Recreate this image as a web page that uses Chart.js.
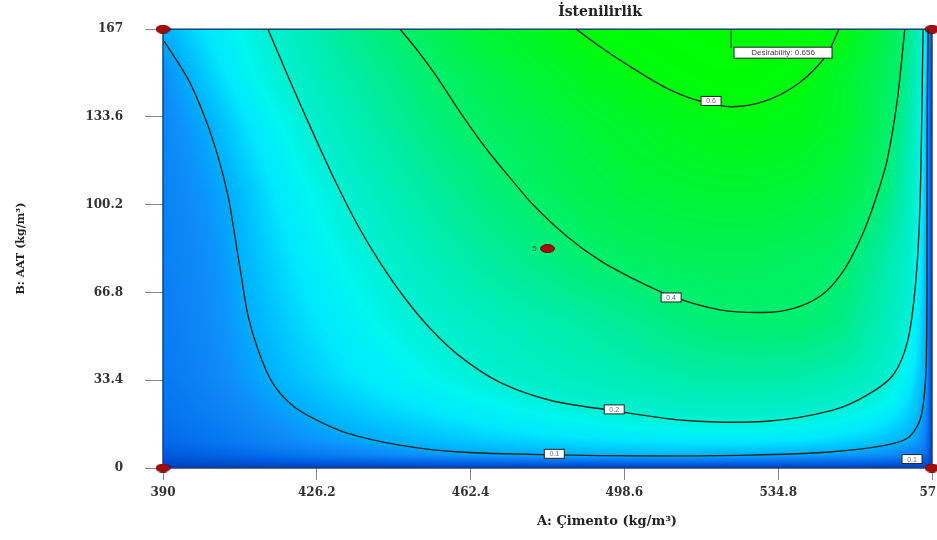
<!DOCTYPE html>
<html>
<head>
<meta charset="utf-8">
<script src="https://cdn.jsdelivr.net/npm/chart.js@4/dist/chart.umd.min.js"></script>
<style>
html, body { margin: 0; padding: 0; background: #fff; overflow: hidden; }
#wrap { width: 960px; height: 540px; }
</style>
</head>
<body>
<div id="wrap"><canvas id="desirChart" width="960" height="540"></canvas></div>
<script>
// axis ticks
const xTicks = [390, 426.2, 462.4, 498.6, 534.8, 571];
const yTicks = [0, 33.4, 66.8, 100.2, 133.6, 167];

// contour lines, [Cimento, AAT]
const contour06 = [[487.3,167],[492.7,160.5],[500.5,152.2],[508.5,144.6],[516.2,139.7],[524,137.5],[532,139.8],[539.7,146.5],[546.1,157],[549.1,167]];
const contour04 = [[445.8,167],[450,158.7],[454.3,149.2],[458.5,138.9],[462.7,129],[467,119.6],[471.7,110.4],[477.1,100.2],[485.1,88.1],[492.9,78.9],[500.6,72.1],[509.8,65.3],[521.1,60.2],[532.9,59.3],[539.9,61.5],[545.8,66.8],[550.5,75.9],[554.5,88.4],[557.6,101.7],[560.4,116.9],[562.8,139.7],[564.6,167]];
const contour02 = [[414.7,167],[419.9,147.3],[425.1,128.3],[430.5,109.3],[435.9,92.2],[441.1,78.2],[447,64.5],[452.9,53.1],[459.9,42.5],[469.3,32.6],[481.1,25.8],[495.2,22],[512.4,18.2],[532.2,17.8],[547.7,22],[555.7,27.7],[561.8,35.3],[565.3,48.6],[567.2,71.4],[568.2,101.7],[568.9,167]];
const contour01 = [[390.3,162.4],[395.9,148],[399.9,133.2],[402.9,118.8],[405.3,103.6],[406.9,88.4],[408.4,73.3],[410,58.1],[412.4,44.8],[415.7,32.6],[420.4,23.9],[426.2,18.2],[433.3,13.3],[445.7,8.7],[459.8,6.1],[482.1,5],[504.5,4.6],[528,4.9],[546.8,6.1],[560.2,8.7],[565.6,11.8],[568.4,19.4],[569.6,38.3],[569.8,82.7],[569.9,139.7],[570.1,167]];

// design points (4 corners + centre, 5 replicates)
const designPoints = [[390,0],[390,167],[571,0],[571,167],[480.5,83.5]];
const centreReps = 5;
const optimum = { x: 523.7, y: 167, value: 0.656 };

// desirability field estimated from the colours
const gridX = [390,395,400,405,410,420,430,440,450,460,470,480,490,500,510,520,530,540,550,556,560,563,566,568,569.5,570.5,571];
const gridY = [167,150,130,105,80,55,35,20,10,5,2,0];
const desirGrid = [
  [.10,.12,.14,.16,.18,.23,.30,.36,.42,.47,.52,.56,.61,.625,.64,.652,.654,.635,.588,.51,.457,.418,.324,.229,.14,.055,0],
  [.08,.097,.12,.14,.165,.208,.265,.32,.38,.425,.465,.507,.548,.588,.612,.628,.625,.602,.516,.463,.428,.402,.292,.215,.127,.045,0],
  [.075,.085,.097,.115,.137,.178,.227,.282,.338,.393,.426,.455,.49,.52,.55,.575,.585,.56,.51,.453,.415,.355,.258,.19,.115,.045,0],
  [.07,.077,.086,.098,.115,.154,.19,.236,.285,.333,.382,.42,.45,.475,.49,.50,.50,.485,.455,.417,.368,.299,.23,.172,.112,.045,0],
  [.068,.073,.08,.09,.107,.137,.167,.197,.236,.275,.315,.355,.394,.415,.428,.435,.432,.42,.402,.335,.284,.245,.206,.155,.109,.045,0],
  [.065,.07,.077,.086,.098,.123,.147,.171,.195,.22,.244,.268,.29,.32,.355,.38,.39,.39,.35,.29,.25,.222,.184,.137,.102,.04,0],
  [.062,.066,.072,.08,.09,.111,.13,.149,.168,.187,.206,.225,.245,.262,.278,.29,.292,.283,.26,.235,.21,.183,.145,.12,.101,.04,0],
  [.055,.06,.065,.07,.077,.092,.107,.12,.132,.145,.158,.17,.183,.196,.205,.21,.21,.2,.18,.165,.15,.135,.118,.103,.08,.035,0],
  [.045,.05,.055,.06,.066,.078,.089,.098,.107,.115,.122,.128,.133,.137,.14,.141,.14,.135,.125,.117,.11,.104,.098,.085,.065,.03,0],
  [.03,.034,.038,.042,.047,.056,.066,.075,.083,.09,.096,.1,.102,.103,.103,.102,.1,.096,.09,.085,.08,.075,.068,.06,.048,.025,0],
  [.015,.017,.019,.021,.023,.027,.031,.035,.038,.04,.042,.043,.044,.044,.044,.044,.043,.042,.04,.038,.036,.034,.031,.028,.022,.012,0],
  [0,0,0,0,0,0,0,0,0,0,0,0,0,0,0,0,0,0,0,0,0,0,0,0,0,0,0]
];

// contour labels: text, Cimento, AAT
const contourLabels = [['0.6',519,139.7],['0.4',509.6,64.9],['0.2',496.2,22.3],['0.1',482.1,5.4],['0.1',566.3,3.4]];

const colorStops = [
  [0, [0,60,190]], [0.04, [0,100,230]], [0.08, [15,140,250]], [0.1, [0,175,255]],
  [0.14, [0,232,255]], [0.17, [0,246,240]], [0.2, [0,240,210]], [0.3, [0,236,160]],
  [0.4, [0,240,105]], [0.5, [0,245,50]], [0.6, [0,252,12]], [0.66, [0,255,0]]
];

function colorFor(d) {
  if (d <= colorStops[0][0]) return colorStops[0][1];
  for (let k = 1; k < colorStops.length; k++) {
    if (d <= colorStops[k][0]) {
      const [d0, c0] = colorStops[k - 1], [d1, c1] = colorStops[k];
      const t = (d - d0) / (d1 - d0);
      return [c0[0] + (c1[0] - c0[0]) * t, c0[1] + (c1[1] - c0[1]) * t, c0[2] + (c1[2] - c0[2]) * t];
    }
  }
  return colorStops[colorStops.length - 1][1];
}

function desirAt(x, y) {
  let i = 0; while (i < gridX.length - 2 && x > gridX[i + 1]) i++;
  let j = 0; while (j < gridY.length - 2 && y < gridY[j + 1]) j++;
  const tx = Math.min(1, Math.max(0, (x - gridX[i]) / (gridX[i + 1] - gridX[i])));
  const ty = Math.min(1, Math.max(0, (gridY[j] - y) / (gridY[j] - gridY[j + 1])));
  const a = desirGrid[j][i], b = desirGrid[j][i + 1], c = desirGrid[j + 1][i], d = desirGrid[j + 1][i + 1];
  return (a * (1 - tx) + b * tx) * (1 - ty) + (c * (1 - tx) + d * tx) * ty;
}

function makeEllipse(w, h) {
  const c = document.createElement('canvas');
  c.width = w; c.height = h;
  const g = c.getContext('2d');
  g.fillStyle = '#a30d0d';
  g.strokeStyle = '#6a0606';
  g.beginPath();
  g.ellipse(w / 2, h / 2, w / 2 - 0.5, h / 2 - 0.5, 0, 0, Math.PI * 2);
  g.fill(); g.stroke();
  return c;
}

const toXY = arr => arr.map(p => ({ x: p[0], y: p[1] }));
const serif = '"DejaVu Serif", "Liberation Serif", serif';

const fieldPlugin = {
  id: 'field',
  beforeDatasetsDraw(chart) {
    const { ctx, chartArea: a, scales: { x, y } } = chart;
    const w = Math.round(a.right - a.left), h = Math.round(a.bottom - a.top);
    const off = document.createElement('canvas');
    off.width = w; off.height = h;
    const octx = off.getContext('2d');
    const img = octx.createImageData(w, h);
    const xs = [], ys = [];
    for (let i = 0; i < w; i++) xs.push(x.getValueForPixel(a.left + i + 0.5));
    for (let j = 0; j < h; j++) ys.push(y.getValueForPixel(a.top + j + 0.5));
    for (let j = 0; j < h; j++) {
      for (let i = 0; i < w; i++) {
        const c = colorFor(desirAt(xs[i], ys[j]));
        const k = (j * w + i) * 4;
        img.data[k] = c[0]; img.data[k + 1] = c[1]; img.data[k + 2] = c[2]; img.data[k + 3] = 255;
      }
    }
    octx.putImageData(img, 0, 0);
    ctx.save();
    ctx.drawImage(off, a.left, a.top);
    ctx.lineWidth = 1.5;
    ctx.strokeStyle = '#1f3f7a';
    ctx.strokeRect(a.left, a.top, a.right - a.left, a.bottom - a.top);
    ctx.restore();
  }
};

const notesPlugin = {
  id: 'notes',
  afterDatasetsDraw(chart) {
    const { ctx, scales: { x, y } } = chart;
    ctx.save();
    // contour labels
    ctx.font = '7px "Liberation Sans", sans-serif';
    ctx.textAlign = 'center';
    ctx.textBaseline = 'middle';
    contourLabels.forEach(([t, vx, vy]) => {
      const px = x.getPixelForValue(vx), py = y.getPixelForValue(vy);
      ctx.fillStyle = '#fff';
      ctx.fillRect(px - 10, py - 4.5, 20, 9);
      ctx.strokeStyle = '#222';
      ctx.lineWidth = 1;
      ctx.strokeRect(px - 10, py - 4.5, 20, 9);
      ctx.fillStyle = '#776677';
      ctx.fillText(t, px, py + 0.5);
    });
    // replicate count at centre point
    const cp = designPoints[4];
    ctx.font = '8px "Liberation Sans", sans-serif';
    ctx.fillStyle = '#2a5a40';
    ctx.fillText(String(centreReps), x.getPixelForValue(cp[0]) - 13, y.getPixelForValue(cp[1]));
    // optimum flag
    const fx = x.getPixelForValue(optimum.x), fy = y.getPixelForValue(optimum.y);
    ctx.strokeStyle = '#333';
    ctx.lineWidth = 1;
    ctx.beginPath(); ctx.moveTo(fx, fy); ctx.lineTo(fx, fy + 19); ctx.stroke();
    ctx.fillStyle = '#fff';
    ctx.fillRect(fx + 3, fy + 18, 98, 11);
    ctx.strokeStyle = '#222';
    ctx.strokeRect(fx + 3, fy + 18, 98, 11);
    ctx.fillStyle = '#553355';
    ctx.font = '8px "Liberation Sans", sans-serif';
    ctx.fillText('Desirability: ' + optimum.value.toFixed(3), fx + 52, fy + 24);
    ctx.restore();
  },
  afterDraw(chart) {
    const { ctx } = chart;
    ctx.save();
    ctx.fillStyle = '#222';
    ctx.textAlign = 'center';
    ctx.textBaseline = 'middle';
    ctx.font = 'bold 14px ' + serif;
    ctx.fillText('İstenilirlik', 600, 12);
    ctx.font = 'bold 13px ' + serif;
    ctx.fillText('A: Çimento (kg/m³)', 607, 522);
    ctx.restore();
  }
};

const lineSet = (label, pts) => ({
  label, data: toXY(pts), showLine: true, tension: 0.3,
  borderColor: '#0e2a1e', borderWidth: 1.4, pointRadius: 0, fill: false
});

new Chart(document.getElementById('desirChart'), {
  type: 'scatter',
  data: {
    datasets: [
      lineSet('0.6', contour06),
      lineSet('0.4', contour04),
      lineSet('0.2', contour02),
      lineSet('0.1', contour01),
      {
        label: 'Design points', data: toXY(designPoints),
        pointStyle: makeEllipse(15, 9), pointRadius: 7, clip: false
      }
    ]
  },
  options: {
    responsive: false,
    animation: false,
    layout: { padding: { left: 0, right: 28, top: 28, bottom: 0 } },
    plugins: { legend: { display: false }, tooltip: { enabled: false }, title: { display: false } },
    scales: {
      x: {
        type: 'linear', min: 390, max: 571,
        afterBuildTicks: s => { s.ticks = xTicks.map(v => ({ value: v })); },
        afterFit: s => { s.height = 72; },
        ticks: { callback: v => String(v), font: { family: serif, size: 12, weight: 'bold' }, color: '#333', padding: 6, maxRotation: 0, autoSkip: false },
        grid: { drawOnChartArea: false, drawTicks: true, tickLength: 12, color: '#888' },
        border: { display: false }
      },
      y: {
        type: 'linear', min: 0, max: 167,
        afterBuildTicks: s => { s.ticks = yTicks.map(v => ({ value: v })); },
        afterFit: s => { s.width = 163; },
        ticks: { callback: v => String(v), font: { family: serif, size: 12, weight: 'bold' }, color: '#333', padding: 22, autoSkip: false },
        grid: { drawOnChartArea: false, drawTicks: true, tickLength: 18, color: '#888' },
        border: { display: false },
        title: { display: true, text: 'B: AAT (kg/m³)', font: { family: serif, size: 11, weight: 'bold' }, color: '#222', padding: { top: 15, bottom: 0 } }
      }
    }
  },
  plugins: [fieldPlugin, notesPlugin]
});
</script>
</body>
</html>
